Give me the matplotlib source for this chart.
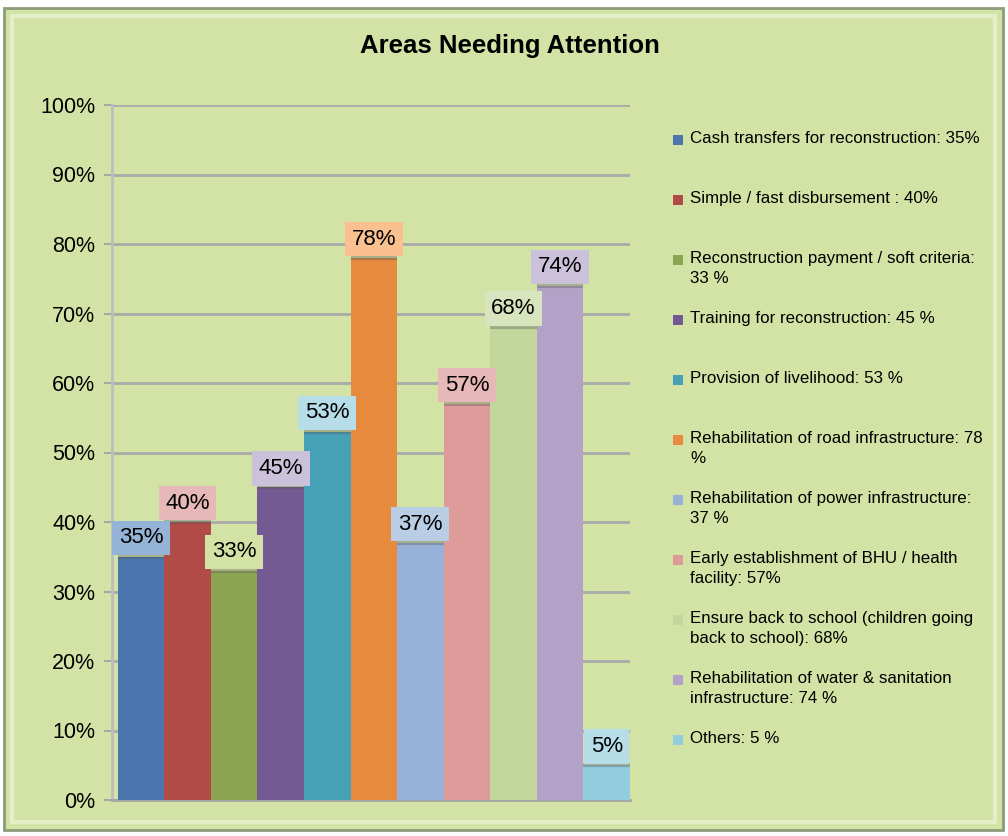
import matplotlib.pyplot as plt
from matplotlib.patches import Rectangle

plt.rcParams['font.family'] = ['Liberation Sans', 'DejaVu Sans']

areas = [
    'Cash transfers for reconstruction: 35%',
    'Simple / fast disbursement : 40%',
    'Reconstruction payment / soft criteria:\n33 %',
    'Training for reconstruction: 45 %',
    'Provision of livelihood: 53 %',
    'Rehabilitation of road infrastructure: 78\n%',
    'Rehabilitation of power infrastructure:\n37 %',
    'Early establishment of BHU / health\nfacility: 57%',
    'Ensure back to school (children going\nback to school): 68%',
    'Rehabilitation of water & sanitation\ninfrastructure: 74 %',
    'Others: 5 %',
]
values = [35, 40, 33, 45, 53, 78, 37, 57, 68, 74, 5]
bar_colors = ['#4a76ad', '#b04b48', '#8ba551', '#735a93', '#46a0b6', '#e68a3e',
              '#98b1d9', '#dd9b9a', '#c3d69b', '#b3a2c7', '#93cddd']
box_colors = ['#95b3d7', '#e6b9b8', '#d3e3a5', '#ccc1da', '#b7dee8', '#fac090',
              '#b9cde5', '#e6b9b8', '#d7e4bd', '#ccc1da', '#b7dee8']

bg = '#d3e3a5'
fig = plt.figure(figsize=(10.08, 8.36), dpi=100, facecolor='white')

# chart frame
fig.patches.append(Rectangle((4 / 1008, 6 / 836), 999 / 1008, 822 / 836,
                             transform=fig.transFigure, facecolor=bg,
                             edgecolor='#8c9c78', lw=2, zorder=-10))
fig.patches.append(Rectangle((12 / 1008, 14 / 836), 983 / 1008, 806 / 836,
                             transform=fig.transFigure, facecolor='none',
                             edgecolor='#e4eec8', lw=3, zorder=-9))

ax = fig.add_axes([112 / 1008, 36 / 836, 518 / 1008, 695 / 836])
ax.set_facecolor('none')
ax.set_zorder(1)

x = list(range(len(values)))
ax.bar(x, values, width=1.0, color=bar_colors, zorder=3)
# darker top edge for a bit of depth
for xi, v in zip(x, values):
    ax.plot([xi - 0.5, xi + 0.5], [v, v], color='#555555', alpha=0.35, lw=3,
            zorder=4, solid_capstyle='butt')

for xi, v, bc in zip(x, values, box_colors):
    ax.annotate(f'{v}%', (xi, v), xytext=(0, 6), textcoords='offset points',
                ha='center', va='bottom', fontsize=16, zorder=5,
                bbox=dict(boxstyle='square,pad=0.3', facecolor=bc, edgecolor='none'))

ax.set_xlim(-0.62, len(values) - 0.5)
ax.set_ylim(0, 100)
ax.set_yticks(range(0, 101, 10))
ax.set_yticklabels([f'{t}%' for t in range(0, 101, 10)], fontsize=15.5)
ax.set_xticks([])
ax.yaxis.grid(True, color='#a9a9a9', lw=2, zorder=0)
ax.set_axisbelow(True)
ax.tick_params(axis='y', length=6, width=1.5, color='#a6a6a6', pad=6)
for s in ['top', 'right']:
    ax.spines[s].set_visible(False)
ax.spines['left'].set_color('#bdbdbd')
ax.spines['left'].set_linewidth(2)
ax.spines['bottom'].set_color('#a6a6a6')
ax.spines['bottom'].set_linewidth(2)

fig.text(510 / 1008, 1 - 46 / 836, 'Areas Needing Attention', ha='center',
         va='center', fontsize=18.5, fontweight='bold')

# legend, placed entry by entry
for i, (lab, c) in enumerate(zip(areas, bar_colors)):
    y = 1 - (140 + 60 * i) / 836
    fig.patches.append(Rectangle((673 / 1008, y - 5 / 836), 10 / 1008, 10 / 836,
                                 transform=fig.transFigure, facecolor=c,
                                 edgecolor='none'))
    fig.text(690 / 1008, y + 9 / 836, lab, ha='left', va='top', fontsize=12.2,
             linespacing=1.4)

fig.savefig('out.png', dpi=100, facecolor='white')
